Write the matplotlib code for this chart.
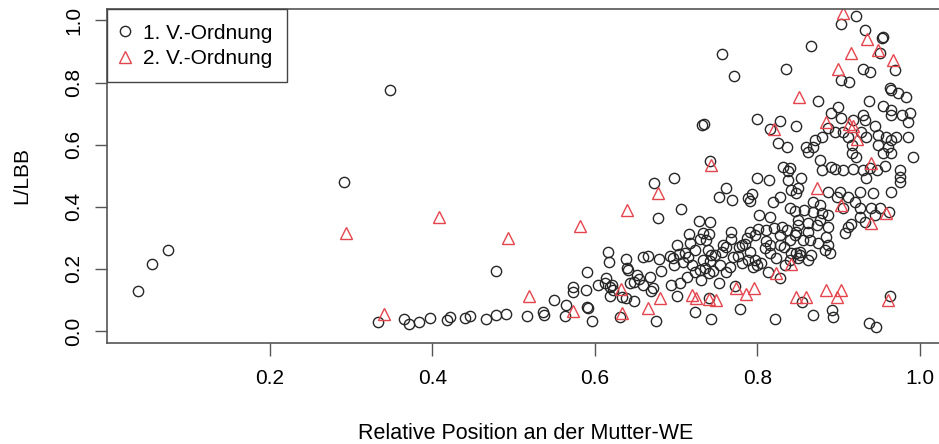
import matplotlib
matplotlib.use('Agg')
import matplotlib.pyplot as plt

# 1. V.-Ordnung (circles)
first_x = [0.0375, 0.055, 0.075, 0.291, 0.348, 0.478,
           0.3325, 0.365, 0.371, 0.383, 0.397, 0.4175, 0.4215, 0.440, 0.446, 0.4665, 0.478, 0.491,
           0.516, 0.536, 0.537, 0.550, 0.563, 0.565, 0.5725, 0.573, 0.589, 0.5905, 0.590, 0.592,
           0.597, 0.604, 0.612, 0.616, 0.617, 0.614, 0.618, 0.621, 0.618, 0.673, 0.678, 0.638,
           0.640, 0.641, 0.6595, 0.665, 0.679, 0.682, 0.652, 0.6545, 0.6675, 0.6595, 0.669, 0.672,
           0.643, 0.648, 0.622, 0.633, 0.638, 0.648, 0.631, 0.675, 0.692,
           0.697, 0.762, 0.753, 0.769, 0.706, 0.728, 0.742, 0.716, 0.733, 0.740, 0.729, 0.737,
           0.701, 0.703, 0.715, 0.709, 0.696, 0.698, 0.719, 0.729, 0.733, 0.742, 0.748, 0.758,
           0.756, 0.761, 0.768, 0.767, 0.770, 0.7455, 0.754, 0.741, 0.731, 0.753, 0.7045, 0.694,
           0.701, 0.723, 0.7435, 0.779, 0.8215, 0.7405, 0.773, 0.799, 0.795, 0.776, 0.7805, 0.785,
           0.791, 0.7965, 0.801, 0.789, 0.791, 0.793, 0.7998, 0.8145, 0.802, 0.815, 0.830, 0.819,
           0.828, 0.838, 0.842, 0.848, 0.840, 0.846, 0.811, 0.815, 0.828, 0.833, 0.842, 0.848,
           0.853, 0.840, 0.846, 0.813, 0.828, 0.742, 0.787, 0.778, 0.791, 0.797, 0.805, 0.8235,
           0.815, 0.809, 0.834, 0.840, 0.828, 0.820, 0.811, 0.836, 0.850, 0.711, 0.723, 0.717,
           0.7395, 0.7435, 0.7355, 0.723, 0.713, 0.766, 0.762, 0.7805, 0.789,
           0.962, 0.965, 0.976, 0.9425, 0.926, 0.920, 0.9265, 0.9405, 0.951, 0.9445, 0.932, 0.926,
           0.912, 0.9015, 0.898, 0.9055, 0.934, 0.854, 0.850, 0.858, 0.869, 0.877, 0.879, 0.887,
           0.873, 0.887, 0.877, 0.912, 0.9075, 0.915, 0.850, 0.848, 0.8625, 0.8645, 0.875, 0.885,
           0.883, 0.889, 0.8665, 0.8625, 0.852, 0.850, 0.855, 0.869, 0.8925, 0.893, 0.937, 0.9455,
           0.963, 0.869, 0.8625, 0.8565, 0.887, 0.887, 0.975,
           0.756, 0.7715, 0.835, 0.866, 0.921, 0.903, 0.932, 0.954, 0.955, 0.951, 0.969, 0.9295,
           0.9385, 0.903, 0.913, 0.963, 0.965, 0.973, 0.983, 0.875, 0.937, 0.8995, 0.955, 0.964,
           0.964, 0.9775, 0.988, 0.9855, 0.891, 0.9035, 0.918, 0.930, 0.932, 0.9445, 0.848, 0.887,
           0.8955, 0.9055, 0.912, 0.871, 0.869, 0.8605, 0.928, 0.934, 0.9485, 0.958, 0.964, 0.971,
           0.985, 0.961, 0.955, 0.964, 0.916, 0.916, 0.922, 0.9485, 0.992, 0.9385, 0.947, 0.957,
           0.891, 0.895, 0.906, 0.918, 0.930, 0.88, 0.975, 0.732, 0.734, 0.800, 0.828, 0.815,
           0.8255, 0.836, 0.832, 0.840, 0.838, 0.8625, 0.879, 0.877]
first_y = [0.129, 0.216, 0.261, 0.481, 0.776, 0.194,
           0.030, 0.039, 0.023, 0.029, 0.043, 0.034, 0.044, 0.043, 0.048, 0.039, 0.051, 0.054,
           0.049, 0.060, 0.052, 0.101, 0.049, 0.083, 0.143, 0.125, 0.132, 0.190, 0.078, 0.075,
           0.033, 0.148, 0.154, 0.255, 0.223, 0.170, 0.143, 0.148, 0.114, 0.476, 0.365, 0.231,
           0.202, 0.196, 0.237, 0.2415, 0.232, 0.194, 0.180, 0.1665, 0.175, 0.148, 0.130, 0.140,
           0.154, 0.158, 0.132, 0.110, 0.105, 0.0975, 0.046, 0.033, 0.2415,
           0.494, 0.4615, 0.4325, 0.423, 0.392, 0.354, 0.350, 0.311, 0.315, 0.311, 0.296, 0.293,
           0.277, 0.247, 0.239, 0.221, 0.234, 0.213, 0.2125, 0.196, 0.229, 0.224, 0.245, 0.277,
           0.256, 0.270, 0.320, 0.296, 0.239, 0.193, 0.2125, 0.186, 0.164, 0.154, 0.154, 0.148,
           0.113, 0.062, 0.039, 0.071, 0.038, 0.105, 0.146, 0.2125, 0.205, 0.2425, 0.277, 0.28,
           0.320, 0.310, 0.3285, 0.427, 0.4185, 0.440, 0.492, 0.486, 0.3735, 0.368, 0.336, 0.4165,
           0.4325, 0.486, 0.454, 0.445, 0.397, 0.387, 0.290, 0.277, 0.277, 0.272, 0.250, 0.251,
           0.245, 0.293, 0.309, 0.191, 0.172, 0.548, 0.2985, 0.2715, 0.2555, 0.229, 0.218, 0.234,
           0.250, 0.266, 0.2125, 0.229, 0.309, 0.331, 0.325, 0.325, 0.341, 0.250, 0.261, 0.2825,
           0.261, 0.245, 0.202, 0.191, 0.175, 0.207, 0.191, 0.218, 0.229,
           0.382, 0.449, 0.495, 0.4435, 0.449, 0.4165, 0.397, 0.397, 0.397, 0.3735, 0.352, 0.368,
           0.4325, 0.449, 0.4325, 0.395, 0.492, 0.492, 0.46, 0.39, 0.384, 0.406, 0.379, 0.3735,
           0.341, 0.336, 0.357, 0.336, 0.315, 0.346, 0.3575, 0.320, 0.320, 0.293, 0.2825, 0.304,
           0.261, 0.250, 0.245, 0.229, 0.255, 0.234, 0.092, 0.0515, 0.0675, 0.046, 0.025, 0.014,
           0.113, 0.4165, 0.347, 0.293, 0.277, 0.449, 0.481,
           0.891, 0.821, 0.843, 0.918, 1.0155, 0.988, 0.969, 0.943, 0.946, 0.894, 0.8405, 0.843,
           0.835, 0.808, 0.803, 0.7815, 0.776, 0.7655, 0.7545, 0.7415, 0.741, 0.7225, 0.7245, 0.712,
           0.696, 0.696, 0.701, 0.674, 0.701, 0.685, 0.6795, 0.696, 0.6795, 0.660, 0.660, 0.653,
           0.642, 0.642, 0.626, 0.615, 0.594, 0.594, 0.642, 0.626, 0.631, 0.626, 0.615, 0.626,
           0.626, 0.594, 0.573, 0.573, 0.599, 0.572, 0.561, 0.599, 0.561, 0.526, 0.52, 0.53,
           0.529, 0.523, 0.518, 0.523, 0.518, 0.518, 0.52, 0.6645, 0.668, 0.682, 0.677, 0.6495,
           0.6045, 0.594, 0.529, 0.524, 0.514, 0.5775, 0.626, 0.551]

# 2. V.-Ordnung (triangles)
second_x = [0.293, 0.408, 0.4925, 0.582, 0.341, 0.519, 0.573, 0.640, 0.678, 0.632, 0.680, 0.665,
            0.633, 0.7425, 0.720, 0.725, 0.741, 0.749, 0.774, 0.786, 0.796, 0.823, 0.842, 0.873,
            0.9035, 0.9405, 0.958, 0.885, 0.9035, 0.8985, 0.8605, 0.8475, 0.961, 0.905, 0.9355, 0.9485,
            0.915, 0.9675, 0.8995, 0.851, 0.820, 0.884, 0.913, 0.918, 0.923, 0.9405]
second_y = [0.315, 0.368, 0.300, 0.338, 0.055, 0.114, 0.063, 0.390, 0.443, 0.134, 0.105, 0.075,
            0.059, 0.5345, 0.116, 0.105, 0.102, 0.100, 0.140, 0.118, 0.1375, 0.186, 0.215, 0.4615,
            0.406, 0.347, 0.379, 0.132, 0.132, 0.110, 0.110, 0.110, 0.100, 1.023, 0.939, 0.905,
            0.896, 0.873, 0.843, 0.7545, 0.6495, 0.674, 0.667, 0.660, 0.617, 0.542]

x_ticks = [0.2, 0.4, 0.6, 0.8, 1.0]
y_ticks = [0.0, 0.2, 0.4, 0.6, 0.8, 1.0]
labels = ['1. V.-Ordnung', '2. V.-Ordnung']


def main():

    plt.rcParams['font.family'] = ['Liberation Sans', 'DejaVu Sans']

    fig = plt.figure(figsize=(9.39, 4.44), dpi=100)
    # axes reach a bit past the right edge, like the cropped original
    ax = fig.add_axes([107/939, 1 - 343/444, 838/939, 334/444])

    ax.plot(first_x, first_y, 'o', ms=7.4, mfc='none', mec='#262626', mew=1.0, label=labels[0])
    ax.plot(second_x, second_y, '^', ms=9, mfc='none', mec='#e5454d', mew=1.0, label=labels[1])

    ax.set_xlim(-0.0006, 1.031)
    ax.set_ylim(-0.0386, 1.037)
    ax.set_xticks(x_ticks)
    ax.set_yticks(y_ticks)
    ax.set_xticklabels(['%.1f' % t for t in x_ticks])
    ax.set_yticklabels(['%.1f' % t for t in y_ticks], rotation=90, va='center')
    ax.tick_params(direction='out', length=9, width=1.0, color='#555555', labelsize=15, pad=8)
    ax.tick_params(axis='x', pad=10)

    for spine in ax.spines.values():
        spine.set_color('#555555')
        spine.set_linewidth(1.2)

    ax.set_xlabel('Relative Position an der Mutter-WE', fontsize=15.5, labelpad=25)
    ax.set_ylabel('L/LBB', fontsize=15, labelpad=24)

    # legend box: marker near the left edge, wide gap to the text
    leg = ax.legend(loc='upper left', borderaxespad=0, fancybox=False, framealpha=1,
                    fontsize=15, handletextpad=0.75, handlelength=0.3, borderpad=0.7,
                    labelspacing=0.3)
    leg.get_frame().set_edgecolor('#444444')
    leg.get_frame().set_linewidth(1.0)

    fig.savefig('out.png', dpi=100)


if __name__ == '__main__':
    main()
